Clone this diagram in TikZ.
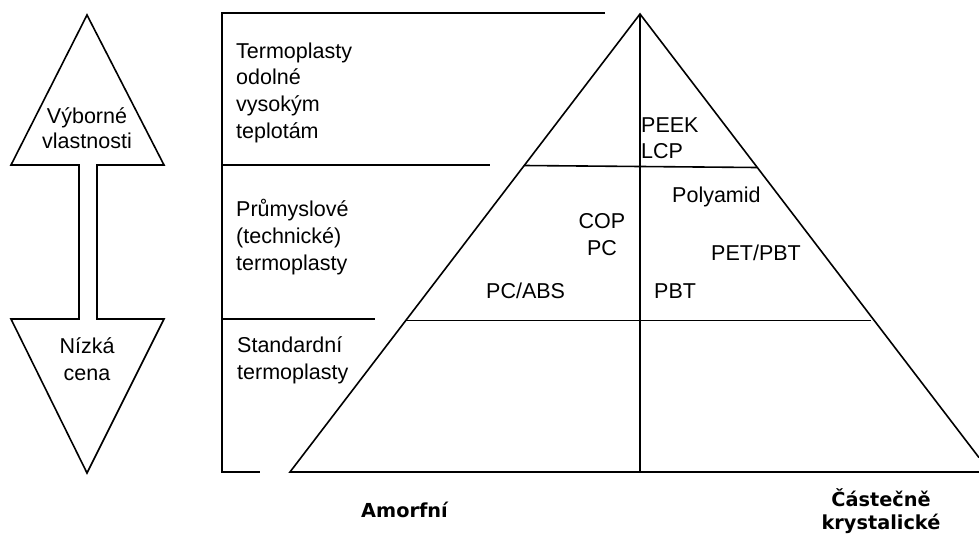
\documentclass[tikz,border=0pt]{standalone}
\usepackage{fontspec}
\setmainfont{Liberation Sans}
\newfontfamily\boldlab{DejaVu Sans}
\begin{document}
\begin{tikzpicture}[x=1pt,y=-1pt,
  ln/.style={line width=1.6pt,line cap=butt,line join=miter},
  lab/.style={inner sep=0pt,font=\fontsize{21.5}{26.7}\selectfont},
  blab/.style={inner sep=0pt,align=center,font=\boldlab\bfseries\fontsize{19.3}{23}\selectfont}]
\useasboundingbox[fill=white] (0,0) rectangle (979,535);
% double arrow
\draw[ln] (87,15) -- (164,165) -- (97,165) -- (97,319) -- (164,319) -- (87,473)
  -- (11,319) -- (79,319) -- (79,165) -- (11,165) -- cycle;
\node[lab,align=center,font=\fontsize{21.5}{25}\selectfont,anchor=base] (vyb) at (87,148) {Výborné\\vlastnosti};
\node[lab,align=center,font=\fontsize{21.5}{27}\selectfont,anchor=base] (niz) at (87,380) {Nízká\\cena};
% frame
\coordinate (ftop) at (222,13);
\coordinate (fbot) at (222,472);
\draw[ln] (605,13) -- (ftop) -- (fbot) -- (260,472);
\draw[ln] (222,165) -- (490,165);
\draw[ln] (222,319) -- (375,319);
% pyramid
\coordinate (apex) at (640,14);
\coordinate (bl) at (290,472);
\coordinate (br) at (979,457.6);
\coordinate (bre) at (979,472);
\coordinate (bm) at (640,472);
\draw[ln] (br) -- (apex) -- (bl) -- (bre);
\draw[ln] (apex) -- (bm);
\draw[ln] (524,165.5) -- (757,167.5);
\draw[ln] (405.5,320.5) -- (871,320.5);
% labels
\node[lab,align=left,anchor=base west] (t1) at (236,138.3) {Termoplasty\\odolné\\vysokým\\teplotám};
\node[lab,align=left,font=\fontsize{21.5}{27}\selectfont,anchor=base west] (t2) at (236,270) {Průmyslové\\(technické)\\termoplasty};
\node[lab,align=left,font=\fontsize{21.5}{27}\selectfont,anchor=base west] (t3) at (237,379) {Standardní\\termoplasty};
\node[lab,align=left,font=\fontsize{21.5}{26}\selectfont,anchor=base west] (peek) at (641,158) {PEEK\\LCP};
\node[lab,anchor=base west] (pa) at (672,202) {Polyamid};
\node[lab,align=center,anchor=base] (cop) at (602,255) {COP\\PC};
\node[lab,anchor=base west] (pet) at (711,260) {PET/PBT};
\node[lab,anchor=base west] (pcabs) at (486,298) {PC/ABS};
\node[lab,anchor=base west] (pbt) at (654,298) {PBT};
\node[blab,anchor=base] (amo) at (404.5,517) {Amorfní};
\node[blab,anchor=base] (cast) at (881,529) {Částečně\\krystalické};
\end{tikzpicture}
\end{document}
